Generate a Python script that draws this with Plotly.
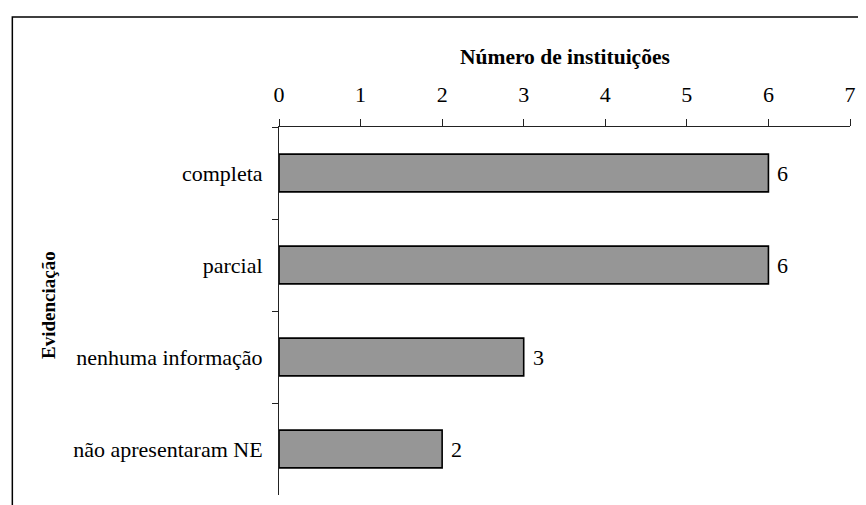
import plotly.graph_objects as go

categories = ["completa", "parcial", "nenhuma informação", "não apresentaram NE"]
values = [6, 6, 3, 2]
x_title = "Número de instituições"
y_title = "Evidenciação"

# page has an 8px body margin; size the figure so it ends at the window edge
OFF = 8
W, H = 866 - OFF, 505 - OFF
L, R, T, B = 279 - OFF, 11, 127 - OFF, 10
pw, ph = W - L - R, H - T - B

FONT = "Liberation Serif, Times New Roman, serif"

fig = go.Figure()
fig.add_trace(go.Bar(
    x=values, y=categories, orientation="h",
    marker=dict(color="#969696", line=dict(color="#000000", width=1.6)),
    showlegend=False, hoverinfo="skip",
))

for v, c in zip(values, categories):
    fig.add_annotation(x=v, y=c, xref="x", yref="y", text=str(v), showarrow=False,
                       xanchor="left", xshift=7, font=dict(family=FONT, size=22, color="#000"))

def px_x(p):
    return (p - OFF - L) / pw

def px_y(p):
    return (H - B - (p - OFF)) / ph

fig.add_annotation(x=px_x(567), y=px_y(57), xref="paper", yref="paper", text=f"<b>{x_title}</b>",
                   showarrow=False, xanchor="center", yanchor="middle",
                   font=dict(family=FONT, size=21.5, color="#000"))
fig.add_annotation(x=px_x(46), y=px_y(305), xref="paper", yref="paper", text=f"<b>{y_title}</b>",
                   showarrow=False, textangle=-90, xanchor="center", yanchor="middle",
                   font=dict(family=FONT, size=19, color="#000"))

fig.add_shape(type="rect", xref="paper", yref="paper",
              x0=px_x(10), x1=px_x(866 + 20), y0=px_y(505 + 20), y1=px_y(17),
              line=dict(color="#000", width=1.5), fillcolor="rgba(0,0,0,0)", layer="below")

fig.update_layout(
    width=W, height=H,
    margin=dict(l=L, r=R, t=T, b=B, pad=0),
    paper_bgcolor="white", plot_bgcolor="white",
    bargap=0.59,
    font=dict(family=FONT, size=22, color="#000"),
)
fig.update_xaxes(side="top", range=[0, 7], dtick=1, tick0=0, showgrid=False, zeroline=False,
                 showline=True, linecolor="#222", linewidth=1, ticks="outside", ticklen=7,
                 tickcolor="#222", ticklabelstandoff=8,
                 tickfont=dict(family=FONT, size=22, color="#000"))
fig.update_yaxes(type="category", autorange=False, range=[3.5, -0.5], showgrid=False, zeroline=False,
                 showline=True, linecolor="#222", linewidth=1, ticks="outside", ticklen=6,
                 tickcolor="#222", tickson="boundaries", ticklabelstandoff=11,
                 tickfont=dict(family=FONT, size=22, color="#000"))

fig.write_html("out.html", config={"displayModeBar": False})
